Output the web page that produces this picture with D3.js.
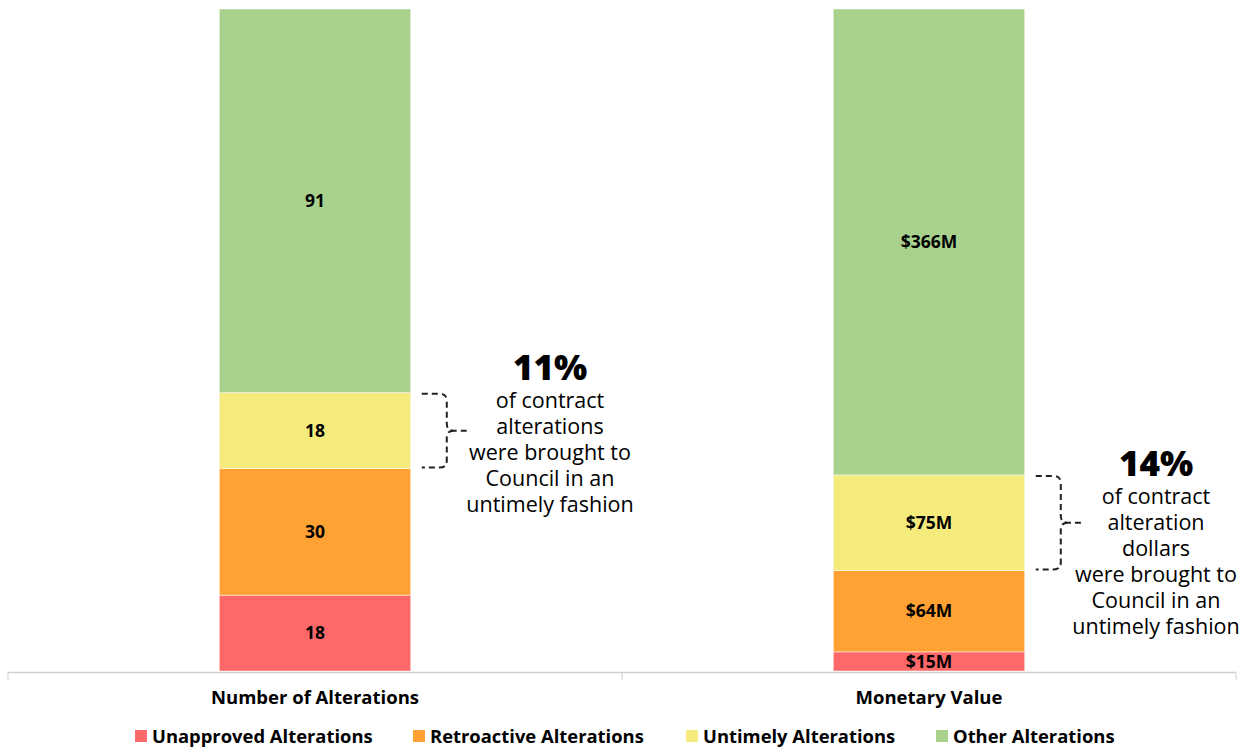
<!DOCTYPE html>
<html>
<head>
<meta charset="utf-8">
<script src="https://cdn.jsdelivr.net/npm/d3@7"></script>
<style>
  body { margin: 0; background: #fff; }
  text { font-family: "Open Sans", sans-serif; }
</style>
</head>
<body>
<div id="chart"></div>
<script>
// data
const categories = ['Number of Alterations', 'Monetary Value'];
const seriesNames = ['Unapproved Alterations', 'Retroactive Alterations', 'Untimely Alterations', 'Other Alterations'];
const unapproved = [18, 15];
const retroactive = [30, 64];
const untimely = [18, 75];
const other = [91, 366];
const valueLabels = [
    ['18', '30', '18', '91'],
    ['$15M', '$64M', '$75M', '$366M']
];
const colors = ['#ff6868', '#ffa133', '#f4eb7c', '#a9d18e'];
const callouts = [
    { pct: '11%', lines: ['of contract', 'alterations', 'were brought to', 'Council in an', 'untimely fashion'] },
    { pct: '14%', lines: ['of contract', 'alteration', 'dollars', 'were brought to', 'Council in an', 'untimely fashion'] }
];

const dimensions = { width: 1247, height: 748 };
const plot = { left: 8, right: 1236, top: 9, bottom: 671 };

const svg = d3.select('#chart')
    .append('svg')
    .attr('width', dimensions.width)
    .attr('height', dimensions.height);

// build rows and normalise to 100%
const rows = categories.map((c, i) => {
    const vals = [unapproved[i], retroactive[i], untimely[i], other[i]];
    const total = d3.sum(vals);
    const row = { category: c };
    seriesNames.forEach((s, j) => row[s] = vals[j] / total);
    return row;
});

const stack = d3.stack().keys(seriesNames);
const stacked = stack(rows);

const x = d3.scaleBand()
    .domain(categories)
    .range([plot.left, plot.right])
    .paddingInner(0.688)
    .paddingOuter(0.344);

const y = d3.scaleLinear()
    .domain([0, 1])
    .range([plot.bottom, plot.top]);

// bars
const layers = svg.append('g')
    .selectAll('g')
    .data(stacked)
    .join('g')
    .attr('fill', (d, i) => colors[i]);

layers.selectAll('rect')
    .data(d => d.map(p => Object.assign(p, { key: d.key })))
    .join('rect')
    .attr('x', d => x(d.data.category))
    .attr('y', d => y(d[1]))
    .attr('width', x.bandwidth())
    .attr('height', d => y(d[0]) - y(d[1]))
    .attr('stroke', '#ffffff')
    .attr('stroke-width', 0.5);

// value labels
layers.selectAll('text')
    .data(d => d)
    .join('text')
    .attr('x', d => x(d.data.category) + x.bandwidth() / 2)
    .attr('y', d => (y(d[0]) + y(d[1])) / 2)
    .attr('dy', '0.35em')
    .attr('text-anchor', 'middle')
    .attr('fill', '#000')
    .attr('font-size', 17.5)
    .attr('font-weight', 'bold')
    .text(d => valueLabels[categories.indexOf(d.data.category)][seriesNames.indexOf(d.key)]);

// x axis
const step = x.step();
const axis = svg.append('g');
axis.append('line')
    .attr('x1', plot.left).attr('x2', plot.left + step * 2)
    .attr('y1', plot.bottom + 1.5).attr('y2', plot.bottom + 1.5)
    .attr('stroke', '#d0d0d0').attr('stroke-width', 1.5);
axis.selectAll('line.tick')
    .data([0, 1, 2])
    .join('line')
    .attr('class', 'tick')
    .attr('x1', d => plot.left + d * step).attr('x2', d => plot.left + d * step)
    .attr('y1', plot.bottom + 1.5).attr('y2', plot.bottom + 9)
    .attr('stroke', '#d0d0d0').attr('stroke-width', 1);
axis.selectAll('text')
    .data(categories)
    .join('text')
    .attr('x', d => x(d) + x.bandwidth() / 2)
    .attr('y', 704)
    .attr('text-anchor', 'middle')
    .attr('font-size', 18.5)
    .attr('font-weight', 'bold')
    .attr('fill', '#000')
    .text(d => d);

// legend
const legendX = [135, 413, 686, 936];
const legend = svg.append('g')
    .selectAll('g')
    .data(seriesNames)
    .join('g')
    .attr('transform', (d, i) => `translate(${legendX[i]}, 736)`);
legend.append('rect')
    .attr('x', 0).attr('y', -6)
    .attr('width', 12).attr('height', 12)
    .attr('fill', (d, i) => colors[i]);
legend.append('text')
    .attr('x', 17)
    .attr('dy', '0.36em')
    .attr('font-size', 18.4)
    .attr('font-weight', 'bold')
    .attr('fill', '#000')
    .text(d => d);

// callouts with braces around the untimely segment
const untimelyLayer = stacked[2];
callouts.forEach((c, i) => {
    const seg = untimelyLayer[i];
    const barRight = x(categories[i]) + x.bandwidth();
    const top = y(seg[1]) + 1;
    const bot = y(seg[0]) - 1;
    const mid = (top + bot) / 2;
    const x0 = barRight + 11;
    const xv = barRight + 36;
    const xn = barRight + 60;
    const r = 7;
    const path = `M${x0},${top} L${xv - r},${top} Q${xv},${top} ${xv},${top + r} L${xv},${mid - r} Q${xv},${mid} ${xv + r},${mid} L${xn},${mid}` +
        ` M${xv + r},${mid} Q${xv},${mid} ${xv},${mid + r} L${xv},${bot - r} Q${xv},${bot} ${xv - r},${bot} L${x0},${bot}`;
    svg.append('path')
        .attr('d', path)
        .attr('fill', 'none')
        .attr('stroke', '#222')
        .attr('stroke-width', 2)
        .attr('stroke-dasharray', '6,4');

    const cx = i === 0 ? 550 : 1156;
    const startY = i === 0 ? 380 : 476;
    svg.append('text')
        .attr('x', cx)
        .attr('y', startY)
        .attr('text-anchor', 'middle')
        .attr('font-size', 35)
        .attr('font-weight', 800)
        .attr('fill', '#000')
        .text(c.pct);
    svg.append('text')
        .attr('text-anchor', 'middle')
        .attr('font-size', 21.5)
        .attr('fill', '#000')
        .selectAll('tspan')
        .data(c.lines)
        .join('tspan')
        .attr('x', cx)
        .attr('y', (d, j) => startY + 28 + j * 26)
        .text(d => d);
});
</script>
</body>
</html>
